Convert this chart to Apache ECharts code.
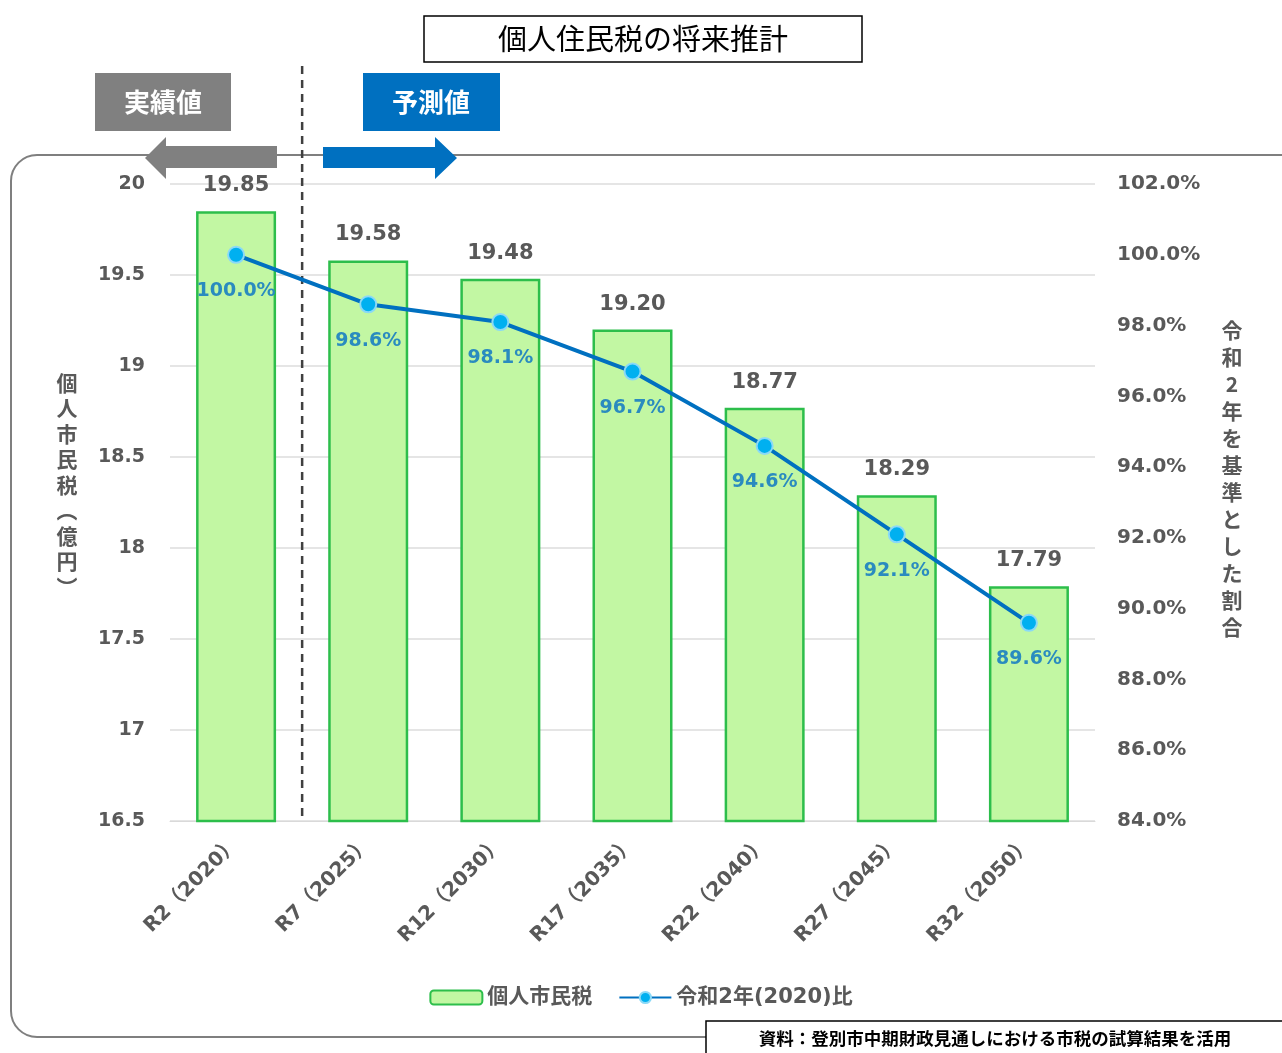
<!DOCTYPE html>
<html><head><meta charset="utf-8">
<script src="https://cdn.jsdelivr.net/npm/echarts@6/dist/echarts.min.js"></script>
<style>html,body{margin:0;padding:0;background:#fff}#c{width:1282px;height:1053px}</style>
</head><body><div id="c"></div>
<script>
const categories = ['R2（2020）','R7（2025）','R12（2030）','R17（2035）','R22（2040）','R27（2045）','R32（2050）'];
const taxValues = [19.85, 19.58, 19.48, 19.20, 18.77, 18.29, 17.79];
const ratioValues = [100.0, 98.6, 98.1, 96.7, 94.6, 92.1, 89.6];
const leftTicks = {min: 16.5, max: 20, interval: 0.5};
const rightTicks = {min: 84, max: 102, interval: 2};
const seriesNames = ['個人市民税', '令和2年(2020)比'];
const titleText = '個人住民税の将来推計';
const leftAxisName = '個人市民税（億円）';
const rightAxisName = '令和2年を基準とした割合';
const sourceText = '資料：登別市中期財政見通しにおける市税の試算結果を活用';

const FONT = '"Noto Sans CJK JP","Noto Sans",sans-serif';
const NUMFONT = '"DejaVu Sans","Noto Sans CJK JP",sans-serif';
const GRAY = '#595959';
const chart = echarts.init(document.getElementById('c'));
const vert = s => s.replace(/（/g, '︵').replace(/）/g, '︶').split('').join('\n');

const option = {
  backgroundColor: '#fff',
  textStyle: {fontFamily: FONT},
  grid: {left: 170, right: 187, top: 184, bottom: 232},
  legend: {
    bottom: 40, left: 'center', itemWidth: 52, itemHeight: 14, itemGap: 26,
    textStyle: {fontSize: 21, fontWeight: 'bold', color: GRAY, fontFamily: NUMFONT},
    data: [{name: seriesNames[0]}, {name: seriesNames[1]}]
  },
  xAxis: {
    type: 'category', data: categories,
    axisLine: {show: true, lineStyle: {color: '#d9d9d9'}},
    axisTick: {show: false},
    axisLabel: {rotate: 45, fontSize: 20, color: GRAY, fontWeight: 'bold', margin: 20, fontFamily: NUMFONT}
  },
  yAxis: [{
    type: 'value', min: leftTicks.min, max: leftTicks.max, interval: leftTicks.interval,
    axisLine: {show: false}, axisTick: {show: false},
    axisLabel: {fontSize: 19, color: GRAY, fontWeight: 'bold', margin: 25, fontFamily: NUMFONT,
      formatter: v => String(v)},
    splitLine: {lineStyle: {color: '#dcdcdc', width: 1.5}}
  }, {
    type: 'value', min: rightTicks.min, max: rightTicks.max, interval: rightTicks.interval,
    axisLine: {show: false}, axisTick: {show: false}, splitLine: {show: false},
    axisLabel: {fontSize: 20, color: GRAY, fontWeight: 'bold', margin: 22, fontFamily: NUMFONT,
      formatter: v => v.toFixed(1) + '%'}
  }],
  series: [{
    name: seriesNames[0], type: 'bar', data: taxValues, barWidth: 80, yAxisIndex: 0,
    itemStyle: {color: '#C2F7A3', borderColor: '#2DBE4B', borderWidth: 2.5},
    label: {show: true, position: 'top', distance: 15, fontSize: 21, fontWeight: 'bold', color: GRAY,
      fontFamily: NUMFONT, formatter: p => p.value.toFixed(2)}
  }, {
    name: seriesNames[1], type: 'line', data: ratioValues, yAxisIndex: 1,
    symbol: 'circle', symbolSize: 16, z: 5,
    lineStyle: {color: '#0070C0', width: 4},
    itemStyle: {color: '#00B0F0', borderColor: '#8ad9f7', borderWidth: 2},
    label: {show: true, position: 'bottom', distance: 18, fontSize: 19, fontWeight: 'bold', color: '#2a8bbf',
      fontFamily: NUMFONT, formatter: p => p.value.toFixed(1) + '%'}
  }]
};
chart.setOption(option);

// decorations
const x0 = chart.convertToPixel({xAxisIndex: 0}, categories[0]);
const x1 = chart.convertToPixel({xAxisIndex: 0}, categories[1]);
const xd = (x0 + x1) / 2;
const yBottom = chart.convertToPixel({yAxisIndex: 0}, leftTicks.min);

chart.setOption({graphic: [
  {type: 'rect', z: -10, shape: {x: 11, y: 155, width: 1300, height: 882, r: 26},
    style: {fill: 'none', stroke: '#7f7f7f', lineWidth: 2}},
  {type: 'rect', shape: {x: 424, y: 16, width: 438, height: 46},
    style: {fill: '#fff', stroke: '#000', lineWidth: 1.5}},
  {type: 'text', x: 643, y: 39, style: {text: titleText, fontSize: 29, fill: '#000', align: 'center', verticalAlign: 'middle', fontFamily: FONT}},
  {type: 'rect', shape: {x: 95, y: 73, width: 136, height: 58}, style: {fill: '#808080'}},
  {type: 'text', x: 163, y: 102, style: {text: '実績値', fontSize: 26, fontWeight: 'bold', fill: '#fff', align: 'center', verticalAlign: 'middle', fontFamily: FONT}},
  {type: 'rect', shape: {x: 363, y: 73, width: 137, height: 58}, style: {fill: '#0070C0'}},
  {type: 'text', x: 431, y: 102, style: {text: '予測値', fontSize: 26, fontWeight: 'bold', fill: '#fff', align: 'center', verticalAlign: 'middle', fontFamily: FONT}},
  {type: 'polygon', shape: {points: [[277,146],[166,146],[166,137],[145,158],[166,179],[166,168],[277,168]]}, style: {fill: '#808080'}},
  {type: 'polygon', shape: {points: [[323,147],[435,147],[435,137],[457,158],[435,179],[435,168],[323,168]]}, style: {fill: '#0070C0'}},
  {type: 'line', shape: {x1: xd, y1: 66, x2: xd, y2: yBottom}, style: {stroke: '#404040', lineWidth: 2.5, lineDash: [8, 6]}},
  {type: 'text', x: 67, y: 485, style: {text: vert(leftAxisName), fontSize: 21, fontWeight: 'bold', fill: GRAY, lineHeight: 25.5, align: 'center', verticalAlign: 'middle', fontFamily: FONT}},
  {type: 'text', x: 1232, y: 479, style: {text: vert(rightAxisName), fontSize: 21, fontWeight: 'bold', fill: GRAY, lineHeight: 27, align: 'center', verticalAlign: 'middle', fontFamily: FONT}},
  {type: 'rect', shape: {x: 706, y: 1021, width: 600, height: 40}, style: {fill: '#fff', stroke: '#000', lineWidth: 1.5}},
  {type: 'text', x: 995, y: 1038, style: {text: sourceText, fontSize: 17.5, fontWeight: 'bold', fill: '#000', align: 'center', verticalAlign: 'middle', fontFamily: FONT}}
]});
</script></body></html>
